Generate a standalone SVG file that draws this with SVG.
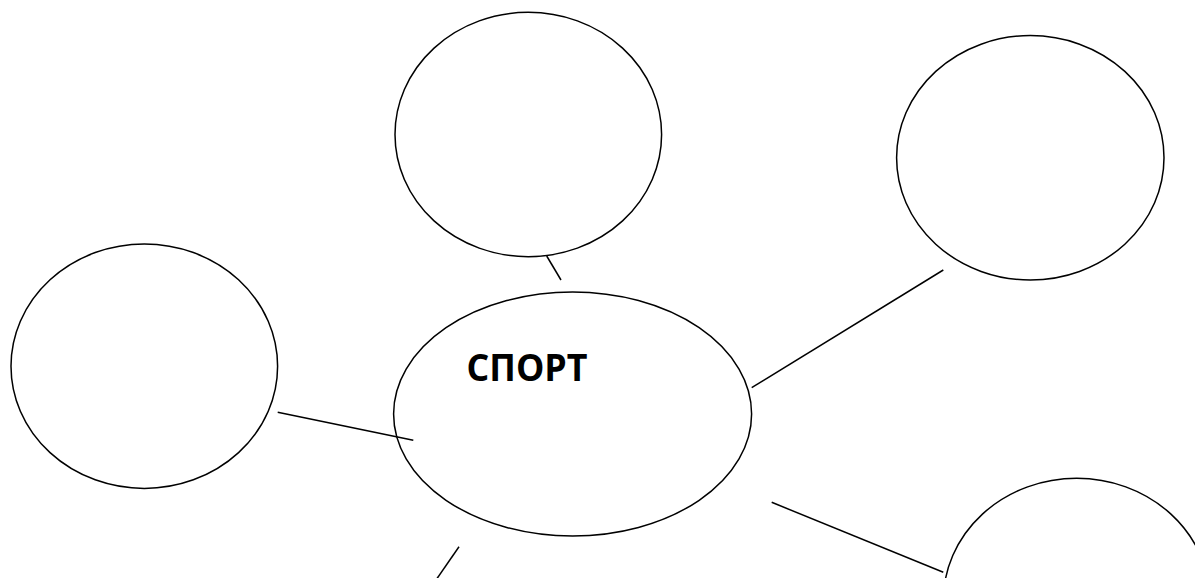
<svg xmlns="http://www.w3.org/2000/svg" width="1195" height="578" viewBox="0 0 1195 578">
<style>
.n{fill:none;stroke:#000;stroke-width:1.5}
.c{stroke:#000;stroke-width:1.5;fill:none}
.t{font-family:"Open Sans","Liberation Sans",sans-serif;font-weight:bold;font-size:38px;fill:#000}
</style>
<rect width="1195" height="578" fill="#fff"/>
<g id="connectors">
<line class="c" x1="546.7" y1="256" x2="561" y2="280"/>
<line class="c" x1="751.7" y1="387.7" x2="943.3" y2="270"/>
<line class="c" x1="277.7" y1="412.3" x2="413.3" y2="440.3"/>
<line class="c" x1="771.7" y1="502.3" x2="943.3" y2="572.3"/>
<line class="c" x1="459" y1="546.7" x2="436" y2="580"/>
</g>
<g id="node-top"><ellipse class="n" cx="528.3" cy="134.5" rx="133.3" ry="122.2"/></g>
<g id="node-topright"><ellipse class="n" cx="1030.3" cy="157.8" rx="133.7" ry="122.2"/></g>
<g id="node-left"><ellipse class="n" cx="144.3" cy="366.2" rx="133.3" ry="122.2"/></g>
<g id="node-bottomright"><ellipse class="n" cx="1076.7" cy="600.5" rx="133.3" ry="122.2"/></g>
<g id="node-center">
<ellipse class="n" cx="572.6" cy="414" rx="179" ry="122"/>
<text class="t" x="466.5" y="381" textLength="121" lengthAdjust="spacingAndGlyphs">СПОРТ</text>
</g>
</svg>
